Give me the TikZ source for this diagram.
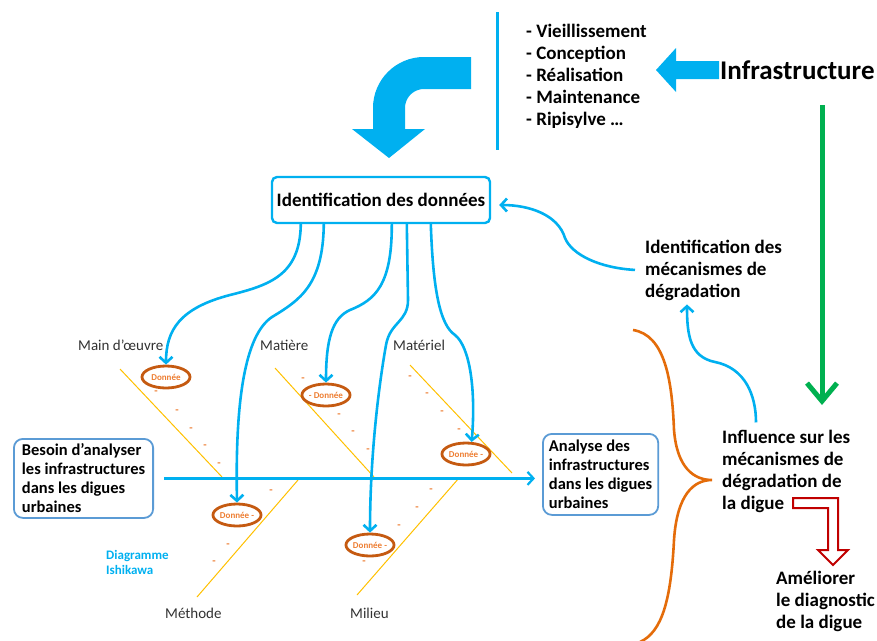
\documentclass[tikz,border=0pt]{standalone}
\usepackage{fontspec}
\setmainfont{Carlito}
\usetikzlibrary{arrows.meta,shapes.geometric,positioning}
\definecolor{cyanblue}{RGB}{0,176,240}
\definecolor{donneeorange}{RGB}{237,125,49}
\definecolor{ringorange}{RGB}{197,90,17}
\definecolor{braceorange}{RGB}{228,108,10}
\definecolor{bonegold}{RGB}{255,192,0}
\definecolor{boxblue}{RGB}{91,155,213}
\definecolor{arrowgreen}{RGB}{0,176,80}
\definecolor{darkred}{RGB}{192,0,0}
\definecolor{labelgrey}{RGB}{50,50,50}
\tikzstyle{heading} = [anchor=base west, inner sep=0, align=left, font=\bfseries\fontsize{19}{22}\selectfont]
\tikzstyle{databox} = [draw=boxblue, line width=1.8pt, rounded corners=9pt, anchor=north west, align=left, font=\bfseries\fontsize{16.5}{19}\selectfont, inner xsep=6pt, inner ysep=2pt]
\tikzstyle{donnee} = [ellipse, draw=ringorange, line width=2.8pt, text=donneeorange, font=\bfseries\fontsize{9}{10}\selectfont, inner sep=0, minimum width=48pt, minimum height=22pt]
\tikzstyle{branchname} = [anchor=base west, inner sep=0, text=labelgrey, font=\fontsize{15}{17}\selectfont]
\tikzstyle{tick} = [inner sep=0, text=donneeorange, font=\bfseries\fontsize{11}{11}\selectfont]
\tikzstyle{bone} = [draw=bonegold, line width=1pt]
\tikzstyle{connector} = [draw=cyanblue, line width=2.6pt, -{Straight Barb[length=6pt,width=13pt]}]
\tikzstyle{spine} = [draw=cyanblue, line width=2.2pt, -{Straight Barb[length=6pt,width=13pt]}]

\begin{document}
\begin{tikzpicture}[x=1pt,y=-1pt]
    \useasboundingbox (0,0) rectangle (877,640);
        % infrastructure and its causes (base = last line)
        \node (infra) [anchor=base west, inner sep=0, font=\bfseries\fontsize{27}{30}\selectfont] at (720,79) {Infrastructure};
        \node (causes) [anchor=base west, inner sep=0, align=left, font=\bfseries\fontsize{19}{22}\selectfont] at (526,125) {- Vieillissement\\- Conception\\- Réalisation\\- Maintenance\\- Ripisylve …};
        \draw [cyanblue, line width=3pt] (497,12) -- (497,150);
        \fill [cyanblue] (719,61) -- (676,61) -- (676,48) -- (656,70) -- (676,92) -- (676,79) -- (719,79) -- cycle;
        \draw [cyanblue, line width=32pt, rounded corners=35pt] (471,73) -- (389,73) -- (389,131);
        \fill [cyanblue] (352,129) -- (425,129) -- (389,158) -- cycle;
        \node (ident) [draw=cyanblue, line width=2.4pt, rounded corners=5pt, minimum width=218pt, minimum height=46pt, font=\bfseries\fontsize{19}{22}\selectfont] at (381,200) {Identification des données};
        % fishbone
        \draw [bone] (120,369) -- (222,477);
        \draw [bone] (275,368) -- (374,477);
        \draw [bone] (410,365) -- (512,473);
        \draw [bone] (197,597) -- (298,480);
        \draw [bone] (357,595) -- (459,478);
        \foreach \x/\y [count=\i] in {156/393, 177/412, 191/430, 205/447, 219/465, 303/380, 339/416, 353/433, 368/451, 410/378, 427/395, 442/413, 459/431, 271/492, 243/528, 228/546, 214/563, 431/491, 417/509, 399/527, 364/563}
            \node (tick-\i) [tick] at (\x,\y) {-};
        \node (main) [branchname] at (78,350) {Main d’œuvre};
        \node (matiere) [branchname] at (260,350) {Matière};
        \node (materiel) [branchname] at (393,350) {Matériel};
        \node (methode) [branchname] at (165,618) {Méthode};
        \node (milieu) [branchname] at (350,618) {Milieu};
        \node (d-main) [donnee] at (166,377) {Donnée};
        \node (d-matiere) [donnee] at (326,395) {- Donnée};
        \node (d-materiel) [donnee] at (466,454) {Donnée -};
        \node (d-methode) [donnee] at (237,515) {Donnée -};
        \node (d-milieu) [donnee] at (370,545) {Donnée -};
        \node (ishikawa) [anchor=base west, inner sep=0, align=left, text=cyanblue, font=\bfseries\fontsize{13}{15}\selectfont] at (106,574) {Diagramme\\Ishikawa};
        \node (besoin) [databox, inner xsep=8pt, minimum width=139pt, minimum height=79pt] at (13,438) {Besoin d’analyser\\les infrastructures\\dans les digues\\urbaines};
        \node (analyse) [databox, minimum width=115pt, minimum height=81pt] at (542,433) {Analyse des\\infrastructures\\dans les digues\\urbaines};
        \draw [spine, shorten <=10pt, shorten >=7pt] (besoin.east) -- (besoin.east -| analyse.west);
        % right side
        \node (mecanismes) [heading] at (645,297) {Identification des\\mécanismes de\\dégradation};
        \node (influence) [heading] at (722,509) {Influence sur les\\mécanismes de\\dégradation de\\la digue};
        \node (ameliorer) [heading] at (776,628) {Améliorer\\le diagnostic\\de la digue};
        \coordinate (g-top) at (822,105);
        \coordinate (g-end) at (822,405);
        \draw [arrowgreen, line width=5pt, -{Straight Barb[length=18pt,width=30pt]}] (g-top) -- (g-end);
        \draw [darkred, line width=2pt, fill=white] (793,498) -- (838,498) -- (838,550) -- (848,550) -- (833,565) -- (818,550) -- (828,550) -- (828,508) -- (793,508) -- cycle;
        \draw [braceorange, line width=2.6pt] (633,330) .. controls (665,335) and (672,380) .. (674,430) .. controls (677,468) and (694,480) .. (712,480) .. controls (694,480) and (677,494) .. (674,540) .. controls (671,600) and (662,632) .. (640,642);
        % connectors
        \draw [connector] ([xshift=30pt]ident.south west) .. controls (300,275) and (270,285) .. (230,295) .. controls (180,308) and (166,330) .. (d-main.north);
        \draw [connector] ([xshift=53pt]ident.south west) .. controls (323,285) and (300,300) .. (272,317) .. controls (245,335) and (235,400) .. (d-methode.north);
        \draw [connector] ([xshift=121pt]ident.south west) .. controls (392,285) and (375,300) .. (350,310) .. controls (332,318) and (326,340) .. (d-matiere.north);
        \draw [connector] ([xshift=136pt]ident.south west) -- (408,300) .. controls (408,322) and (390,322) .. (386,345) .. controls (378,390) and (370,460) .. (d-milieu.north);
        \draw [connector] ([xshift=160pt]ident.south west) .. controls (433,290) and (440,325) .. (455,335) .. controls (470,347) and (476,390) .. (d-materiel.65);
        \draw [connector] ([xshift=-10pt]mecanismes.west) .. controls (600,268) and (572,255) .. (565,238) .. controls (558,215) and (530,205) .. ([xshift=8pt,yshift=-5pt]ident.east);
        \draw [connector] ([xshift=34pt,yshift=7pt]influence.north west) .. controls (756,395) and (745,368) .. (715,362) .. controls (690,357) and (687,335) .. ([xshift=42pt,yshift=-4pt]mecanismes.south west);
    \end{tikzpicture}
\end{document}
